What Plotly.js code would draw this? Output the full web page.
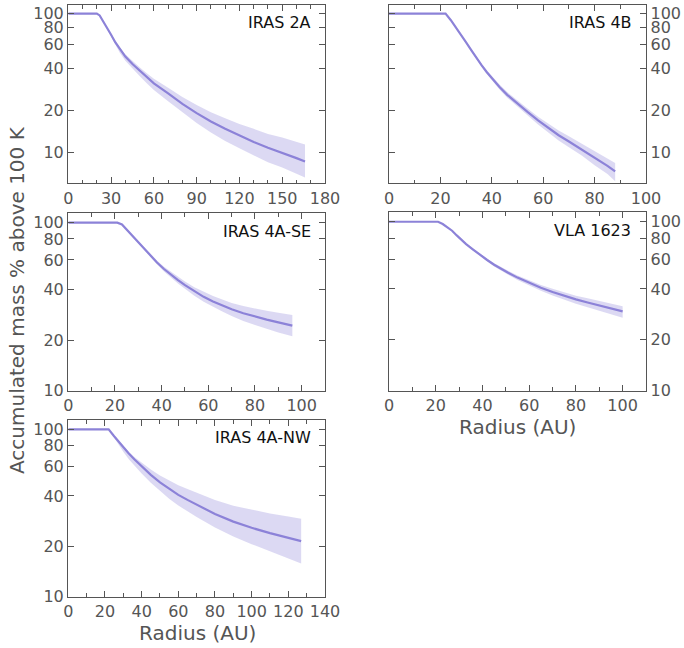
<!DOCTYPE html>
<html>
<head>
<meta charset="utf-8">
<script src="https://cdn.plot.ly/plotly-3.0.1.min.js"></script>
<style>html,body{margin:0;padding:0;background:#fff;}#chart{width:684px;height:648px;}</style>
</head>
<body>
<div id="chart"></div>
<script>
// ---- Data ----
const names = ["IRAS 2A", "IRAS 4B", "IRAS 4A-SE", "VLA 1623", "IRAS 4A-NW"];

const r2A   = [0, 20, 22, 24, 26, 28, 30, 33, 36, 40, 45, 50, 55, 60, 70, 80, 90, 100, 110, 120, 130, 140, 150, 160, 166];
const mid2A = [100, 100, 97, 90, 82.5, 76.5, 70.5, 62, 55.5, 49, 43.3, 38.8, 34.8, 31.5, 26.6, 22.4, 19.2, 16.7, 14.8, 13.2, 11.9, 10.8, 9.95, 9.1, 8.6];
const hi2A  = [100, 100, 97, 90, 82.9, 77.3, 71.6, 63.2, 57.2, 51.0, 45.5, 41.1, 37.2, 34.0, 29.3, 25.1, 22.0, 19.5, 17.6, 16.0, 14.8, 13.6, 12.8, 11.9, 11.4];
const lo2A  = [100, 100, 97, 89.6, 81.3, 74.6, 68.0, 59.2, 52.4, 45.8, 40.1, 35.5, 31.5, 28.2, 23.4, 19.4, 16.3, 13.9, 12.1, 10.7, 9.5, 8.5, 7.8, 7.0, 6.6];

const r4B   = [0, 22, 24, 26, 28, 30, 32, 34, 36, 38, 40, 43, 46, 50, 54, 58, 62, 66, 70, 75, 80, 85, 88];
const mid4B = [100, 100, 90, 80, 70.5, 62, 54.6, 48, 42.5, 38, 34.2, 29.6, 26, 22.4, 19.5, 17, 15, 13.3, 12, 10.5, 9.2, 8, 7.3];
const hi4B  = [100, 100, 90, 80.4, 71.2, 62.9, 55.7, 49.1, 43.6, 39.1, 35.4, 30.8, 27.2, 23.5, 20.6, 18.1, 16.1, 14.4, 13.1, 11.6, 10.3, 9.0, 8.4];
const lo4B  = [100, 100, 90, 79.6, 69.8, 61.1, 53.5, 46.9, 41.4, 36.9, 33.0, 28.4, 24.8, 21.3, 18.4, 15.9, 13.9, 12.2, 10.9, 9.5, 8.1, 7.0, 6.2];

const r4ASE   = [0, 21, 23, 25, 27, 29, 31, 33, 35, 38, 41, 44, 47, 50, 54, 58, 62, 66, 70, 75, 80, 85, 90, 96];
const mid4ASE = [100, 100, 97.5, 91, 85, 79.5, 74, 68.5, 64, 58, 53, 49, 45.5, 42.5, 39, 36.2, 34, 32.2, 30.5, 28.9, 27.6, 26.5, 25.5, 24.4];
const hi4ASE  = [100, 100, 97.5, 91.3, 85.5, 80.3, 75.0, 69.7, 65.3, 59.6, 54.7, 51.0, 47.6, 44.7, 41.3, 38.7, 36.6, 34.9, 33.3, 31.9, 30.8, 29.9, 29.1, 28.2];
const lo4ASE  = [100, 100, 97.5, 90.7, 84.5, 78.7, 73.0, 67.3, 62.7, 56.5, 51.3, 47.1, 43.5, 40.4, 36.7, 33.8, 31.5, 29.6, 27.8, 26.0, 24.6, 23.3, 22.2, 21.1];

const rVLA   = [0, 21, 23, 25, 27, 29, 31, 33, 36, 39, 42, 45, 48, 51, 55, 60, 65, 70, 75, 80, 85, 90, 95, 100];
const midVLA = [100, 100, 97, 93, 88.5, 83, 78, 73.8, 68.5, 63.6, 59.4, 55.7, 52.6, 49.9, 46.7, 43.4, 40.7, 38.4, 36.4, 34.7, 33.3, 31.9, 30.7, 29.5];
const hiVLA  = [100, 100, 97, 93.2, 88.9, 83.5, 78.6, 74.5, 69.4, 64.6, 60.5, 56.9, 53.9, 51.3, 48.1, 44.9, 42.3, 40.1, 38.1, 36.5, 35.2, 33.9, 32.8, 31.6];
const loVLA  = [100, 100, 97, 92.8, 88.1, 82.5, 77.4, 73.1, 67.6, 62.6, 58.3, 54.4, 51.2, 48.5, 45.2, 41.8, 39.0, 36.6, 34.5, 32.7, 31.2, 29.7, 28.3, 27.0];

const r4ANW   = [0, 22, 25, 27, 30, 33, 36, 40, 45, 50, 55, 60, 65, 70, 80, 90, 100, 110, 120, 127];
const mid4ANW = [100, 100, 91, 85.5, 78.1, 71.8, 66.3, 60.1, 53.5, 48.2, 44.0, 40.6, 37.9, 35.4, 31.2, 28.1, 25.8, 24.0, 22.5, 21.5];
const hi4ANW  = [100, 100, 91, 85.9, 78.9, 73.2, 68.3, 63.1, 57.5, 53.0, 49.3, 46.3, 44.0, 41.8, 37.8, 35.0, 33.0, 31.4, 30.2, 29.2];
const lo4ANW  = [100, 100, 89.2, 82.1, 73.4, 66.4, 60.7, 54.4, 47.9, 42.7, 38.5, 35.1, 32.4, 29.9, 25.9, 22.9, 20.6, 18.7, 17.0, 15.8];

const yTickVals = [10, 20, 40, 60, 80, 100];
const yTickText = ["10", "20", "40", "60", "80", "100"];
const xTitle = "Radius (AU)";
const yTitle = "Accumulated mass % above 100 K";

// ---- Styling ----
const LINE = "#8c82d8";
const FILL = "rgba(140,130,216,0.30)";
const AX = "#555555";
const FONT = "DejaVu Sans";

const series = [
  {r: r2A, mid: mid2A, hi: hi2A, lo: lo2A},
  {r: r4B, mid: mid4B, hi: hi4B, lo: lo4B},
  {r: r4ASE, mid: mid4ASE, hi: hi4ASE, lo: lo4ASE},
  {r: rVLA, mid: midVLA, hi: hiVLA, lo: loVLA},
  {r: r4ANW, mid: mid4ANW, hi: hi4ANW, lo: lo4ANW}
];

const W = 684, H = 648;
// panel pixel boxes [left, right, top, bottom]
const boxes = [
  [68.3, 325, 5, 183],
  [389, 646, 5, 183],
  [68.3, 325, 213.3, 390.7],
  [389, 646, 212.3, 390.7],
  [68.3, 325, 420, 596.7]
];
const xRanges = [[0, 180], [0, 100], [0, 110], [0, 110], [0, 140]];
const xDticks = [30, 20, 20, 20, 20];
const yRanges = [[0.78, 2.062], [0.78, 2.062], [1, 2.056], [1, 2.056], [1, 2.056]];
const ySides = ["left", "right", "left", "right", "left"];

const traces = [];
const layout = {
  width: W, height: H,
  margin: {l: 0, r: 0, t: 0, b: 0},
  paper_bgcolor: "#fff", plot_bgcolor: "#fff",
  showlegend: false,
  font: {family: FONT, color: AX},
  annotations: []
};

series.forEach((s, i) => {
  const n = i + 1;
  const xa = n === 1 ? "x" : "x" + n;
  const ya = n === 1 ? "y" : "y" + n;
  traces.push({x: s.r, y: s.lo, xaxis: xa, yaxis: ya, mode: "lines", line: {width: 0, color: FILL}, hoverinfo: "skip"});
  traces.push({x: s.r, y: s.hi, xaxis: xa, yaxis: ya, mode: "lines", line: {width: 0, color: FILL}, fill: "tonexty", fillcolor: FILL, hoverinfo: "skip"});
  traces.push({x: s.r, y: s.mid, xaxis: xa, yaxis: ya, mode: "lines", line: {width: 2.2, color: LINE}});

  const b = boxes[i];
  const xk = n === 1 ? "xaxis" : "xaxis" + n;
  const yk = n === 1 ? "yaxis" : "yaxis" + n;
  layout[xk] = {
    domain: [b[0] / W, b[1] / W],
    anchor: ya,
    range: xRanges[i],
    dtick: xDticks[i], tick0: 0,
    ticks: "inside", ticklen: 6, tickwidth: 1, tickcolor: AX,
    minor: {dtick: 10, tick0: 0, ticks: "inside", ticklen: 3.5, tickwidth: 1, tickcolor: AX},
    showline: true, linecolor: AX, linewidth: 1.3, mirror: "ticks",
    showgrid: false, zeroline: false,
    tickfont: {family: FONT, size: 16, color: AX}
  };
  layout[yk] = {
    domain: [1 - b[3] / H, 1 - b[2] / H],
    anchor: xa,
    type: "log",
    range: yRanges[i],
    side: ySides[i],
    tickvals: yTickVals, ticktext: yTickText,
    ticks: "inside", ticklen: 6, tickwidth: 1, tickcolor: AX,
    showline: true, linecolor: AX, linewidth: 1.3, mirror: "ticks",
    showgrid: false, zeroline: false,
    tickfont: {family: FONT, size: 16, color: AX}
  };
  layout.annotations.push({
    text: names[i], showarrow: false,
    xref: xa + " domain", yref: ya + " domain",
    x: i === 3 ? 0.95 : 0.955, y: 0.9, xanchor: "right", yanchor: "middle",
    font: {family: FONT, size: 16, color: "#111"}
  });
});

layout.annotations.push({
  text: xTitle, showarrow: false, xref: "paper", yref: "paper",
  x: 517.5 / W, y: 1 - 426.7 / H, xanchor: "center", yanchor: "middle",
  font: {family: FONT, size: 20, color: AX}
});
layout.annotations.push({
  text: xTitle, showarrow: false, xref: "paper", yref: "paper",
  x: 197 / W, y: 1 - 633 / H, xanchor: "center", yanchor: "middle",
  font: {family: FONT, size: 20, color: AX}
});
layout.annotations.push({
  text: yTitle, showarrow: false, xref: "paper", yref: "paper",
  x: 17 / W, y: 1 - 300 / H, xanchor: "center", yanchor: "middle", textangle: -90,
  font: {family: FONT, size: 20, color: AX}
});

Plotly.newPlot("chart", traces, layout, {staticPlot: true, displayModeBar: false});
</script>
</body>
</html>
